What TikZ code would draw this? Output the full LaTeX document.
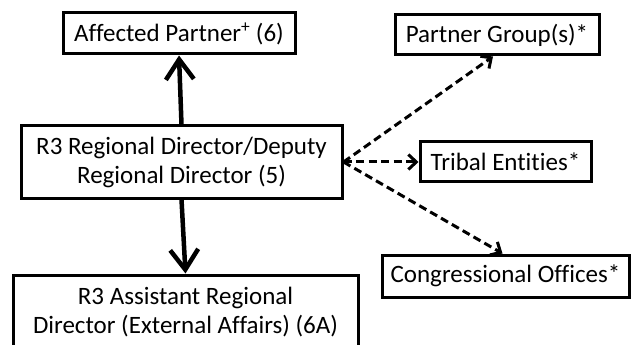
\documentclass[tikz,border=0pt]{standalone}
\usepackage{fontspec}
\setmainfont[Ligatures=NoCommon]{Carlito}
\usetikzlibrary{arrows.meta}
\begin{document}
\begin{tikzpicture}[x=1pt,y=-1pt,
  box/.style={draw=black, line width=3pt, fill=white, inner sep=0pt, align=center,
    font=\fontsize{25}{29}\selectfont},
  thickarrow/.style={line width=4.5pt, -{Straight Barb[length=20pt,width=28pt]}},
  dasharrow/.style={line width=3pt, dash pattern=on 8pt off 4.5pt,
    -{Straight Barb[length=8pt,width=15pt]}}]
\useasboundingbox[fill=white] (0,0) rectangle (633,345);
\node[box, minimum width=232pt, minimum height=41pt] (A) at (179,33.5) {Affected Partner\textsuperscript{+} (6)};
\node[box, minimum width=204pt, minimum height=40pt] (P) at (497,35) {Partner Group(s)*};
\node[box, minimum width=171pt, minimum height=40pt] (T) at (505.5,162) {Tribal Entities*};
\node[box, minimum width=247pt, minimum height=42pt] (C) at (505.5,276) {Congressional Offices*};
\node[box, minimum width=321pt, minimum height=72pt] (R) at (181.5,162) {R3 Regional Director/Deputy\\Regional Director (5)};
\node[box, minimum width=345pt, minimum height=74pt] (B) at (185.5,312) {R3 Assistant Regional\\Director (External Affairs) (6A)};
\draw[thickarrow] (R.north) -- (A.south);
\draw[thickarrow] (R.south) -- (B.north);
\draw[dasharrow] (R.east) -- ([xshift=-4pt]P.south);
\draw[dasharrow] (R.east) -- (T.west);
\draw[dasharrow] (R.east) -- ([xshift=-3pt]C.north);
\end{tikzpicture}
\end{document}
